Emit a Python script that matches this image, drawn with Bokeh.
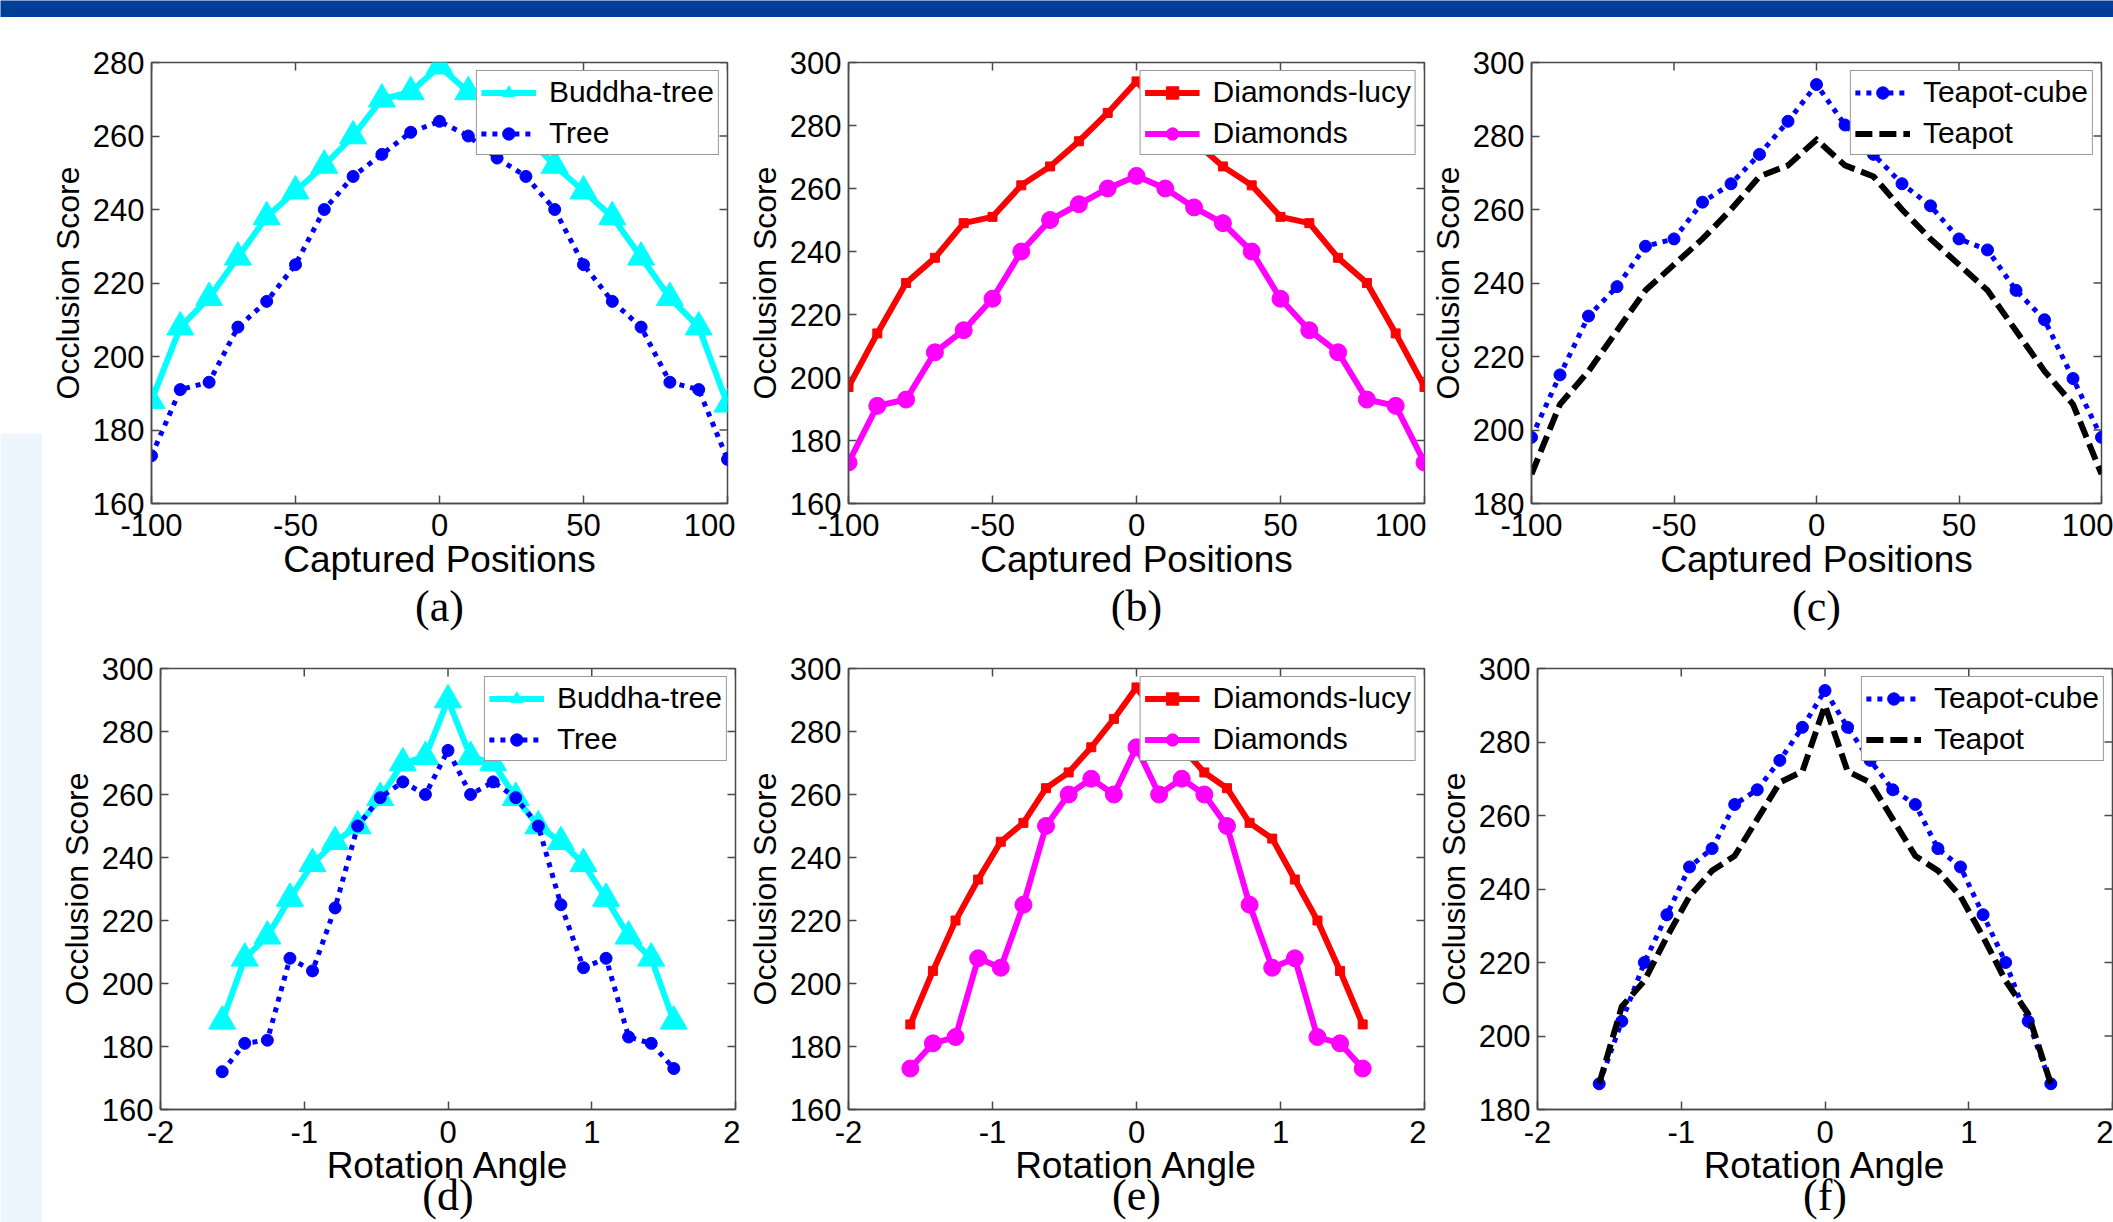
import math
from bokeh.plotting import figure
from bokeh.models import Range1d, FixedTicker, LinearAxis, Legend, LegendItem
from bokeh.layouts import row, column
from bokeh.embed import file_html
from bokeh.resources import INLINE

# ---------------- data ----------------
positions = [-100, -90, -80, -70, -60, -50, -40, -30, -20, -10, 0,
             10, 20, 30, 40, 50, 60, 70, 80, 90, 100]
angles = [-1.5708, -1.4137, -1.2566, -1.0996, -0.9425, -0.7854, -0.6283,
          -0.4712, -0.3142, -0.1571, 0.0, 0.1571, 0.3142, 0.4712, 0.6283,
          0.7854, 0.9425, 1.0996, 1.2566, 1.4137, 1.5708]

a_buddha_tree = [188, 208, 216, 227, 238, 245, 252, 260, 270, 272, 279,
                 272, 270, 260, 252, 245, 238, 227, 216, 208, 187]
a_tree = [173, 191, 193, 208, 215, 225, 240, 249, 255, 261, 264,
          260, 254, 249, 240, 225, 215, 208, 193, 191, 172]
b_diamonds_lucy = [197, 214, 230, 238, 249, 251, 261, 267, 275, 284, 294,
                   284, 275, 267, 261, 251, 249, 238, 230, 214, 197]
b_diamonds = [173, 191, 193, 208, 215, 225, 240, 250, 255, 260, 264,
              260, 254, 249, 240, 225, 215, 208, 193, 191, 173]
c_teapot_cube = [198, 215, 231, 239, 250, 252, 262, 267, 275, 284, 294,
                 283, 275, 267, 261, 252, 249, 238, 230, 214, 198]
c_teapot = [188, 207, 216, 227, 238, 245, 252, 260, 269, 272, 279,
            272, 269, 260, 252, 245, 238, 227, 216, 207, 188]

d_buddha_tree = [188, 208, 215, 227, 238, 245, 250, 259, 270, 272, 290,
                 272, 270, 259, 250, 245, 238, 227, 215, 208, 188]
d_tree = [172, 181, 182, 208, 204, 224, 250, 259, 264, 260, 274,
          260, 264, 259, 250, 225, 205, 208, 183, 181, 173]
e_diamonds_lucy = [187, 204, 220, 233, 245, 251, 262, 267, 275, 284, 294,
                   284, 275, 267, 262, 251, 246, 233, 220, 204, 187]
e_diamonds = [173, 181, 183, 208, 205, 225, 250, 260, 265, 260, 275,
              260, 265, 260, 250, 225, 205, 208, 183, 181, 173]
f_teapot_cube = [187, 204, 220, 233, 246, 251, 263, 267, 275, 284, 294,
                 284, 275, 267, 263, 251, 246, 233, 220, 204, 187]
f_teapot = [187, 208, 215, 227, 238, 245, 249, 259, 269, 272, 290,
            272, 269, 259, 249, 245, 238, 227, 215, 206, 187]

pos_ticks = [-100, -50, 0, 50, 100]
pos_tick_labels = ["-100", "-50", "0", "50", "100"]
ang_ticks = [-2, -1, 0, 1, 2]
ang_tick_labels = ["-2", "-1", "0", "1", "2"]
y_ticks_160_280 = [160, 180, 200, 220, 240, 260, 280]
y_ticks_160_300 = [160, 180, 200, 220, 240, 260, 280, 300]
y_ticks_180_300 = [180, 200, 220, 240, 260, 280, 300]

x_label_pos = "Captured Positions"
x_label_ang = "Rotation Angle"
y_label = "Occlusion Score"
captions = ["(a)", "(b)", "(c)", "(d)", "(e)", "(f)"]

# ---------------- styles ----------------
SANS = "Liberation Sans"
SERIF = "Liberation Serif"
AX = "#4a4a4a"
TICK_FS = "31px"
LEG_FS = "30px"
XLAB_FS = "37px"
YLAB_FS = "32px"
CAP_FS = "44px"

CYAN = "#00ffff"
BLUE = "#0000ff"
RED = "#ff0000"
MAGENTA = "#ff00ff"
BLACK = "#000000"

style_buddha = dict(color=CYAN, width=6, dash="solid", marker="triangle", size=27)
style_tree = dict(color=BLUE, width=5, dash="5 6", marker="circle", size=12)
style_lucy = dict(color=RED, width=6, dash="solid", marker="square", size=9)
style_diam = dict(color=MAGENTA, width=6, dash="solid", marker="circle", size=17)
style_cube = dict(color=BLUE, width=5, dash="5 6", marker="circle", size=12)
style_teapot = dict(color=BLACK, width=6, dash="17 7", marker=None, size=0)


def make_panel(width, height, bl, br, bt, bb, xr, yr, xticks, xtick_labels,
               yticks, xlabel, caption, series, offs):
    tick_so, xlab_so, cap_so = offs
    p = figure(width=width, height=height, output_backend="svg",
               toolbar_location=None,
               x_range=Range1d(xr[0], xr[1]), y_range=Range1d(yr[0], yr[1]),
               min_border_left=bl, min_border_right=br,
               min_border_top=bt, min_border_bottom=bb,
               background_fill_color="white", border_fill_color="white",
               outline_line_color=AX, outline_line_width=1.5)
    p.grid.visible = False

    xa = p.xaxis[0]
    xa.ticker = FixedTicker(ticks=xticks)
    xa.major_label_overrides = {t: s for t, s in zip(xticks, xtick_labels)}
    ya = p.yaxis[0]
    ya.ticker = FixedTicker(ticks=yticks)
    for ax in (xa, ya):
        ax.axis_line_color = AX
        ax.axis_line_width = 1.5
        ax.major_tick_line_color = AX
        ax.major_tick_line_width = 1.5
        ax.major_tick_in = 8
        ax.major_tick_out = 0
        ax.minor_tick_line_color = None
        ax.major_label_text_font = SANS
        ax.major_label_text_font_size = TICK_FS
        ax.major_label_text_color = "black"
        ax.axis_label_text_font = SANS
        ax.axis_label_text_font_style = "normal"
        ax.axis_label_text_color = "black"
    xa.major_label_standoff = tick_so
    xa.axis_label = xlabel
    xa.axis_label_text_font_size = XLAB_FS
    xa.axis_label_standoff = xlab_so
    ya.axis_label = y_label
    ya.axis_label_text_font_size = YLAB_FS
    ya.axis_label_standoff = 4
    ya.major_label_standoff = 7

    # caption below the x axis label
    cap = LinearAxis(ticker=FixedTicker(ticks=[]), axis_line_color=None,
                     major_tick_line_color=None, minor_tick_line_color=None,
                     major_label_standoff=0, major_tick_in=0, major_tick_out=0,
                     axis_label=caption, axis_label_text_font=SERIF,
                     axis_label_text_font_size=CAP_FS,
                     axis_label_text_font_style="normal",
                     axis_label_text_color="black", axis_label_standoff=cap_so)
    p.add_layout(cap, "below")

    # mirrored inward ticks on the top and right edges of the box
    p.scatter(xticks, [yr[1]] * len(xticks), marker="dash", angle=math.pi / 2,
              size=16, line_color=AX, line_width=1.5)
    p.scatter([xr[1]] * len(yticks), yticks, marker="dash", size=16,
              line_color=AX, line_width=1.5)

    items = []
    for name, xs, ys, st in series:
        rs = []
        ln = p.line(xs, ys, line_color=st["color"], line_width=st["width"],
                    line_dash=st["dash"], line_join="miter")
        rs.append(ln)
        if st["marker"]:
            sc = p.scatter(xs, ys, marker=st["marker"], size=st["size"],
                           fill_color=st["color"], line_color=st["color"],
                           line_width=1)
            rs.append(sc)
        items.append(LegendItem(label=name, renderers=rs))
    leg = Legend(items=items, location="top_right", margin=8, padding=4,
                 spacing=7, glyph_width=55, glyph_height=31, label_height=31,
                 label_standoff=13, label_text_font=SANS,
                 label_text_font_size=LEG_FS, label_text_color="black",
                 border_line_color="#333333", border_line_width=1.5,
                 background_fill_color="white", background_fill_alpha=1.0)
    p.add_layout(leg)
    return p


BAND_H = 17
H1, H2 = 618, 587
T1, B1 = 45, 132
T2, B2 = 33, 112
OFF1 = (10, 0, -1)
OFF2 = (11, -1, -18)

fa = make_panel(693, H1, 109, 8, T1, B1, (-100, 100), (160, 280), pos_ticks,
                pos_tick_labels, y_ticks_160_280, x_label_pos, captions[0],
                [("Buddha-tree", positions, a_buddha_tree, style_buddha),
                 ("Tree", positions, a_tree, style_tree)], OFF1)
fb = make_panel(691, H1, 113, 2, T1, B1, (-100, 100), (160, 300), pos_ticks,
                pos_tick_labels, y_ticks_160_300, x_label_pos, captions[1],
                [("Diamonds-lucy", positions, b_diamonds_lucy, style_lucy),
                 ("Diamonds", positions, b_diamonds, style_diam)], OFF1)
fc = make_panel(687, H1, 101, 12, T1, B1, (-100, 100), (180, 300), pos_ticks,
                pos_tick_labels, y_ticks_180_300, x_label_pos, captions[2],
                [("Teapot-cube", positions, c_teapot_cube, style_cube),
                 ("Teapot", positions, c_teapot, style_teapot)], OFF1)
fd = make_panel(698, H2, 118, 5, T2, B2, (-2, 2), (160, 300), ang_ticks,
                ang_tick_labels, y_ticks_160_300, x_label_ang, captions[3],
                [("Buddha-tree", angles, d_buddha_tree, style_buddha),
                 ("Tree", angles, d_tree, style_tree)], OFF2)
fe = make_panel(686, H2, 108, 2, T2, B2, (-2, 2), (160, 300), ang_ticks,
                ang_tick_labels, y_ticks_160_300, x_label_ang, captions[4],
                [("Diamonds-lucy", angles, e_diamonds_lucy, style_lucy),
                 ("Diamonds", angles, e_diamonds, style_diam)], OFF2)
ff = make_panel(687, H2, 111, 1, T2, B2, (-2, 2), (180, 300), ang_ticks,
                ang_tick_labels, y_ticks_180_300, x_label_ang, captions[5],
                [("Teapot-cube", angles, f_teapot_cube, style_cube),
                 ("Teapot", angles, f_teapot, style_teapot)], OFF2)


def blank(w, h, color):
    b = figure(width=w, height=h, output_backend="svg", toolbar_location=None,
               x_axis_type=None, y_axis_type=None, min_border=0,
               outline_line_color=None, background_fill_color=color,
               border_fill_color=color)
    return b


band = blank(2113, BAND_H, "#003f98")
strip = column(blank(42, 416, "white"), blank(42, H1 + H2 - 416, "#eef6fd"),
               spacing=0)
grid = column(row(fa, fb, fc, spacing=0), row(fd, fe, ff, spacing=0), spacing=0)
layout = column(band, row(strip, grid, spacing=0), spacing=0)

open("out.html", "w").write(file_html(layout, INLINE, "Occlusion scores"))
